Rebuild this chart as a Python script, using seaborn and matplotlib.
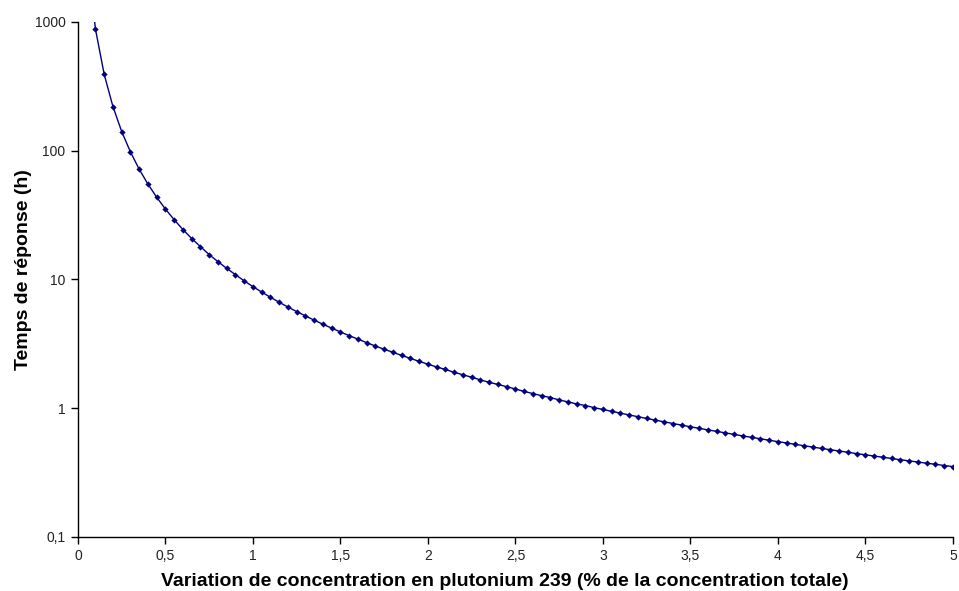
import numpy as np
import pandas as pd
import matplotlib
matplotlib.use("Agg")
import matplotlib.pyplot as plt
import matplotlib.ticker as mticker
import seaborn as sns

# x values: % variation in Pu-239 concentration
variation = [
    0.05, 0.10, 0.15, 0.20, 0.25, 0.30, 0.35, 0.40, 0.45, 0.50,
    0.55, 0.60, 0.65, 0.70, 0.75, 0.80, 0.85, 0.90, 0.95, 1.00,
    1.05, 1.10, 1.15, 1.20, 1.25, 1.30, 1.35, 1.40, 1.45, 1.50,
    1.55, 1.60, 1.65, 1.70, 1.75, 1.80, 1.85, 1.90, 1.95, 2.00,
    2.05, 2.10, 2.15, 2.20, 2.25, 2.30, 2.35, 2.40, 2.45, 2.50,
    2.55, 2.60, 2.65, 2.70, 2.75, 2.80, 2.85, 2.90, 2.95, 3.00,
    3.05, 3.10, 3.15, 3.20, 3.25, 3.30, 3.35, 3.40, 3.45, 3.50,
    3.55, 3.60, 3.65, 3.70, 3.75, 3.80, 3.85, 3.90, 3.95, 4.00,
    4.05, 4.10, 4.15, 4.20, 4.25, 4.30, 4.35, 4.40, 4.45, 4.50,
    4.55, 4.60, 4.65, 4.70, 4.75, 4.80, 4.85, 4.90, 4.95, 5.00,
]

# response time in hours
response_time = [
    3520, 880, 391, 220, 140.8, 97.8, 71.8, 55.0, 43.5, 35.2,
    29.1, 24.4, 20.8, 18.0, 15.6, 13.75, 12.2, 10.9, 9.75, 8.8,
    7.98, 7.27, 6.65, 6.11, 5.63, 5.21, 4.83, 4.49, 4.19, 3.91,
    3.66, 3.44, 3.23, 3.04, 2.87, 2.72, 2.57, 2.44, 2.31, 2.20,
    2.09, 2.00, 1.90, 1.82, 1.74, 1.66, 1.59, 1.53, 1.47, 1.41,
    1.35, 1.30, 1.25, 1.21, 1.16, 1.12, 1.08, 1.05, 1.01, 0.978,
    0.946, 0.916, 0.887, 0.859, 0.833, 0.808, 0.784, 0.761, 0.739, 0.718,
    0.698, 0.679, 0.661, 0.643, 0.626, 0.609, 0.594, 0.579, 0.564, 0.550,
    0.537, 0.524, 0.511, 0.499, 0.487, 0.476, 0.465, 0.455, 0.444, 0.435,
    0.425, 0.416, 0.407, 0.398, 0.390, 0.382, 0.374, 0.367, 0.359, 0.352,
]

x_ticks = [0, 0.5, 1, 1.5, 2, 2.5, 3, 3.5, 4, 4.5, 5]
x_tick_labels = ["0", "0,5", "1", "1,5", "2", "2,5", "3", "3,5", "4", "4,5", "5"]
y_ticks = [0.1, 1, 10, 100, 1000]
y_tick_labels = ["0,1", "1", "10", "100", "1000"]

df = pd.DataFrame({"variation": variation, "temps": response_time})

sns.set_style("white")
plt.rcParams["font.family"] = ["Liberation Sans", "DejaVu Sans"]

fig = plt.figure(figsize=(9.59, 5.91), dpi=100)
ax = fig.add_axes([0.0813, 0.0914, 0.9124, 0.8714])

sns.lineplot(
    data=df, x="variation", y="temps", ax=ax,
    color="#000080", linewidth=1.0,
    marker="D", markersize=3.2, markeredgewidth=0,
)

ax.set_yscale("log")
ax.set_xlim(0, 5)
ax.set_ylim(0.1, 1000)
ax.set_xticks(x_ticks)
ax.set_xticklabels(x_tick_labels)
ax.set_yticks(y_ticks)
ax.set_yticklabels(y_tick_labels)
ax.yaxis.set_minor_locator(mticker.NullLocator())

ax.tick_params(axis="both", which="major", direction="out", length=5,
               width=1, color="black", labelsize=10, labelcolor="#222222",
               bottom=True, left=True, pad=4)

sns.despine(ax=ax)
for side in ["left", "bottom"]:
    ax.spines[side].set_color("black")
    ax.spines[side].set_linewidth(1)

ax.set_xlabel("")
ax.set_ylabel("")
ax.grid(False)

# axis titles placed in figure pixels to match the reference
fig.text(505 / 959, 1 - 582 / 591,
         "Variation de concentration en plutonium 239 (% de la concentration totale)",
         fontsize=14, fontweight="bold", ha="center", va="center", color="black")
fig.text(24 / 959, 1 - 270 / 591, "Temps de réponse (h)",
         fontsize=14, fontweight="bold", ha="center", va="center", rotation=90,
         color="black")

fig.savefig("out.png", dpi=100)
